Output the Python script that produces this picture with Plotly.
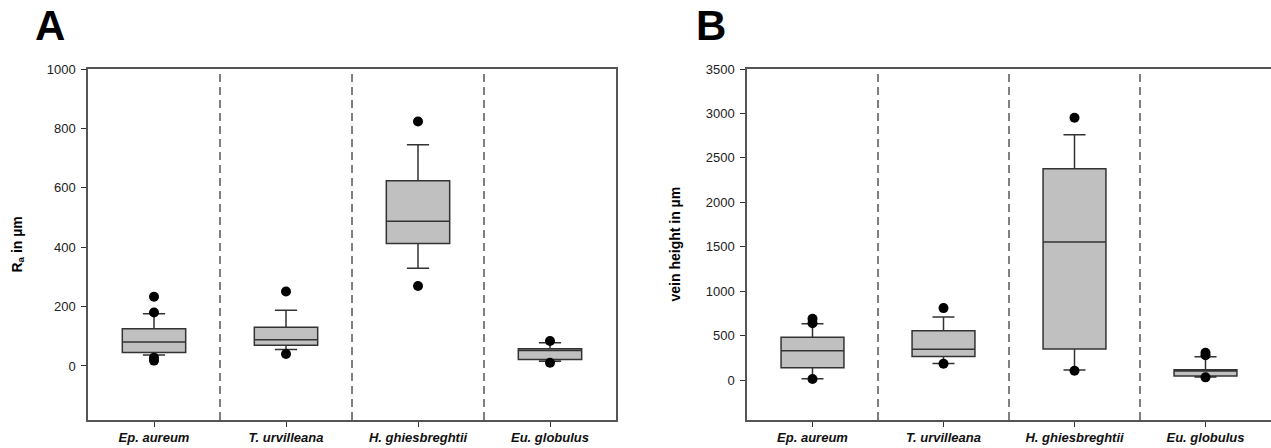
import plotly.graph_objects as go

# ---------------- data ----------------
categories = ["Ep. aureum", "T. urvilleana", "H. ghiesbreghtii", "Eu. globulus"]
tick_labels = ["<b><i>Ep. aureum</i></b>", "<b><i>T. urvilleana</i></b>",
               "<b><i>H. ghiesbreghtii</i></b>", "<b><i>Eu. globulus</i></b>"]

# Panel A: Ra in µm
a_q1 = [45, 70, 412, 22]
a_median = [81, 88, 487, 52]
a_q3 = [125, 130, 624, 58]
a_low = [37, 55, 329, 16]
a_high = [176, 188, 745, 78]
a_outliers = [[233, 180, 28, 18], [251, 40], [823, 269], [84, 11]]

# Panel B: vein height in µm
b_q1 = [138, 266, 348, 45]
b_median = [330, 345, 1554, 101]
b_q3 = [480, 554, 2378, 116]
b_low = [15, 187, 112, 34]
b_high = [633, 708, 2760, 262]
b_outliers = [[690, 640, 12], [809, 183], [2952, 105], [307, 278, 30]]

a_ticks = [0, 200, 400, 600, 800, 1000]
b_ticks = [0, 500, 1000, 1500, 2000, 2500, 3000, 3500]

# ---------------- figure ----------------
W, H = 1271, 448
fig = go.Figure()
xpos = list(range(len(categories)))

def add_panel(q1, med, q3, low, high, outl, xa, ya):
    fig.add_trace(go.Box(
        x=xpos, q1=q1, median=med, q3=q3, lowerfence=low, upperfence=high,
        width=0.48, whiskerwidth=0.35, boxpoints=False,
        fillcolor="#c0c0c0", line=dict(color="#333333", width=1.5),
        xaxis=xa, yaxis=ya, showlegend=False, hoverinfo="skip"))
    ox, oy = [], []
    for i, vals in enumerate(outl):
        for v in vals:
            ox.append(xpos[i]); oy.append(v)
    fig.add_trace(go.Scatter(
        x=ox, y=oy, mode="markers", marker=dict(color="black", size=10),
        xaxis=xa, yaxis=ya, showlegend=False, hoverinfo="skip"))
    for d in [0.5, 1.5, 2.5]:
        fig.add_shape(type="line", x0=d, x1=d, y0=0, y1=1,
                      xref=xa, yref=ya + " domain",
                      line=dict(color="black", width=1, dash="8px,5px"))

add_panel(a_q1, a_median, a_q3, a_low, a_high, a_outliers, "x", "y")
add_panel(b_q1, b_median, b_q3, b_low, b_high, b_outliers, "x2", "y2")

axis_common = dict(showgrid=False, zeroline=False, showline=True,
                   linecolor="#555555", linewidth=1.5, ticks="outside",
                   ticklen=5, tickcolor="#333333")
yfont = dict(family="Liberation Sans, Arial", size=13, color="#222222")
xfont = dict(family="Liberation Sans, Arial", size=13, color="#111111")

fig.update_layout(
    width=W, height=H,
    margin=dict(l=0, r=0, t=69, b=28),
    plot_bgcolor="white", paper_bgcolor="white",
    xaxis=dict(domain=[88 / W, 616 / W], range=[-0.5, 3.5], tickfont=xfont, mirror=True,
               tickvals=xpos, ticktext=tick_labels, **axis_common),
    yaxis=dict(domain=[0, 1], range=[-182, 1000], tickvals=a_ticks, tickfont=yfont,
               mirror=True, ticklabelstandoff=3, **axis_common),
    xaxis2=dict(domain=[747 / W, 1.0], range=[-0.5, 3.5], tickfont=xfont, mirror=True,
                tickvals=xpos, ticktext=tick_labels, anchor="y2", **axis_common),
    yaxis2=dict(domain=[0, 1], range=[-450, 3500], tickvals=b_ticks, anchor="x2",
                tickfont=yfont, mirror=False, ticklabelstandoff=3, **axis_common),
)

font_lbl = dict(family="Liberation Sans, Arial", size=42, color="black")
fig.add_annotation(text="<b>A</b>", x=50 / W, y=1 + (69 - 26) / 351, xref="paper", yref="paper",
                   showarrow=False, font=font_lbl, xanchor="center", yanchor="middle")
fig.add_annotation(text="<b>B</b>", x=711 / W, y=1 + (69 - 26) / 351, xref="paper", yref="paper",
                   showarrow=False, font=font_lbl, xanchor="center", yanchor="middle")

font_title = dict(family="Liberation Sans, Arial", size=14, color="black")
fig.add_annotation(text="<b>R<sub>a</sub> in µm</b>", x=17 / W, y=0.5, xref="paper", yref="paper",
                   showarrow=False, textangle=-90, font=font_title,
                   xanchor="center", yanchor="middle")
fig.add_annotation(text="<b>vein height in µm</b>", x=674 / W, y=0.5, xref="paper", yref="paper",
                   showarrow=False, textangle=-90, font=font_title,
                   xanchor="center", yanchor="middle")

fig.write_html("out.html", config={"displayModeBar": False},
               post_script="document.body.style.margin='0';")
